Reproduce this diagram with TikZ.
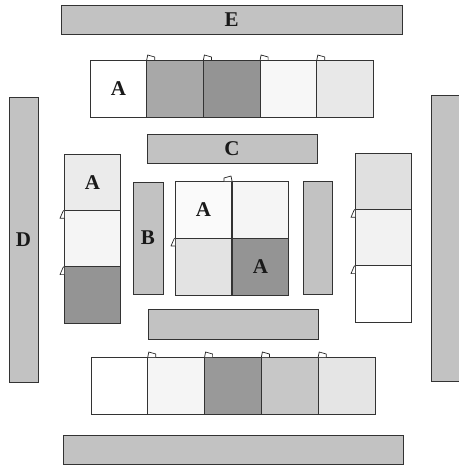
\documentclass[tikz,border=0pt]{standalone}
\usepackage{fontspec}
\setmainfont{Liberation Serif}
\begin{document}
\begin{tikzpicture}[x=1pt,y=-1pt,
  box/.style={draw=black!80, line width=0.8pt, anchor=north west, inner sep=0pt, outer sep=0pt,
    font=\fontsize{21}{21}\selectfont\bfseries, text=black!90},
  sq/.style={box, minimum width=56.7pt, minimum height=57.5pt},
  bar/.style={box, fill=black!24},
  flag/.style={draw=black!85, line width=0.7pt, fill=white, line join=round}]
\useasboundingbox (0,0) rectangle (458,465);
\newcommand\topflag[1]{\draw[flag] (#1) -- ++(1,-5) -- ++(7,2) -- ++(0,3);}
\newcommand\topflagl[1]{\draw[flag] (#1) -- ++(-1,-5) -- ++(-7,2) -- ++(0,3);}
\newcommand\leftflag[1]{\draw[flag] (#1) -- ++(-1,1) -- ++(-3,7) -- ++(4,0);}
% outer bars
\node[bar, minimum width=341pt, minimum height=29pt] (E) at (61,5) {E};
\node[bar, minimum width=340pt, minimum height=29pt] (F) at (63,435) {};
\node[bar, minimum width=29pt, minimum height=285pt] (D) at (9,97) {D};
\node[bar, minimum width=32pt, minimum height=286pt] (R) at (431,95) {};
% inner bars
\node[bar, minimum width=170pt, minimum height=29pt] (C) at (147,134) {C};
\node[bar, minimum width=170pt, minimum height=30pt] (G) at (148,309) {};
\node[bar, minimum width=30pt, minimum height=112pt] (B) at (133,182) {B};
\node[bar, minimum width=29pt, minimum height=113pt] (H) at (303,181) {};
% top row
\node[sq, fill=white] (t1) at (90,60) {A};
\node[sq, fill=black!34] (t2) at (146.7,60) {};
\node[sq, fill=black!42] (t3) at (203.4,60) {};
\node[sq, fill=black!3] (t4) at (260.1,60) {};
\node[sq, fill=black!9] (t5) at (316.8,60) {};
\topflag{t2.north west}
\topflag{t3.north west}
\topflag{t4.north west}
\topflag{t5.north west}
% bottom row
\node[sq, fill=white] (b1) at (91,357) {};
\node[sq, fill=black!4] (b2) at (147.8,357) {};
\node[sq, fill=black!40] (b3) at (204.6,357) {};
\node[sq, fill=black!22] (b4) at (261.4,357) {};
\node[sq, fill=black!10] (b5) at (318.2,357) {};
\topflag{b2.north west}
\topflag{b3.north west}
\topflag{b4.north west}
\topflag{b5.north west}
% left stack
\node[sq, minimum height=56.3pt, fill=black!8] (l1) at (64,154) {A};
\node[sq, minimum height=56.3pt, fill=black!4] (l2) at (64,210.3) {};
\node[sq, minimum height=56.3pt, fill=black!42] (l3) at (64,266.6) {};
\leftflag{l2.north west}
\leftflag{l3.north west}
% right stack
\node[sq, minimum width=56pt, minimum height=56.3pt, fill=black!12] (r1) at (355,153) {};
\node[sq, minimum width=56pt, minimum height=56.3pt, fill=black!5] (r2) at (355,209.3) {};
\node[sq, minimum width=56pt, minimum height=56.3pt, fill=white] (r3) at (355,265.6) {};
\leftflag{r2.north west}
\leftflag{r3.north west}
% center 2x2
\node[sq, fill=black!2] (c1) at (175,181) {A};
\node[sq, fill=black!4] (c2) at (232,181) {};
\node[sq, fill=black!11] (c3) at (175,238) {};
\node[sq, fill=black!42] (c4) at (232,238) {A};
\topflagl{c2.north west}
\leftflag{c3.north west}
\end{tikzpicture}
\end{document}
